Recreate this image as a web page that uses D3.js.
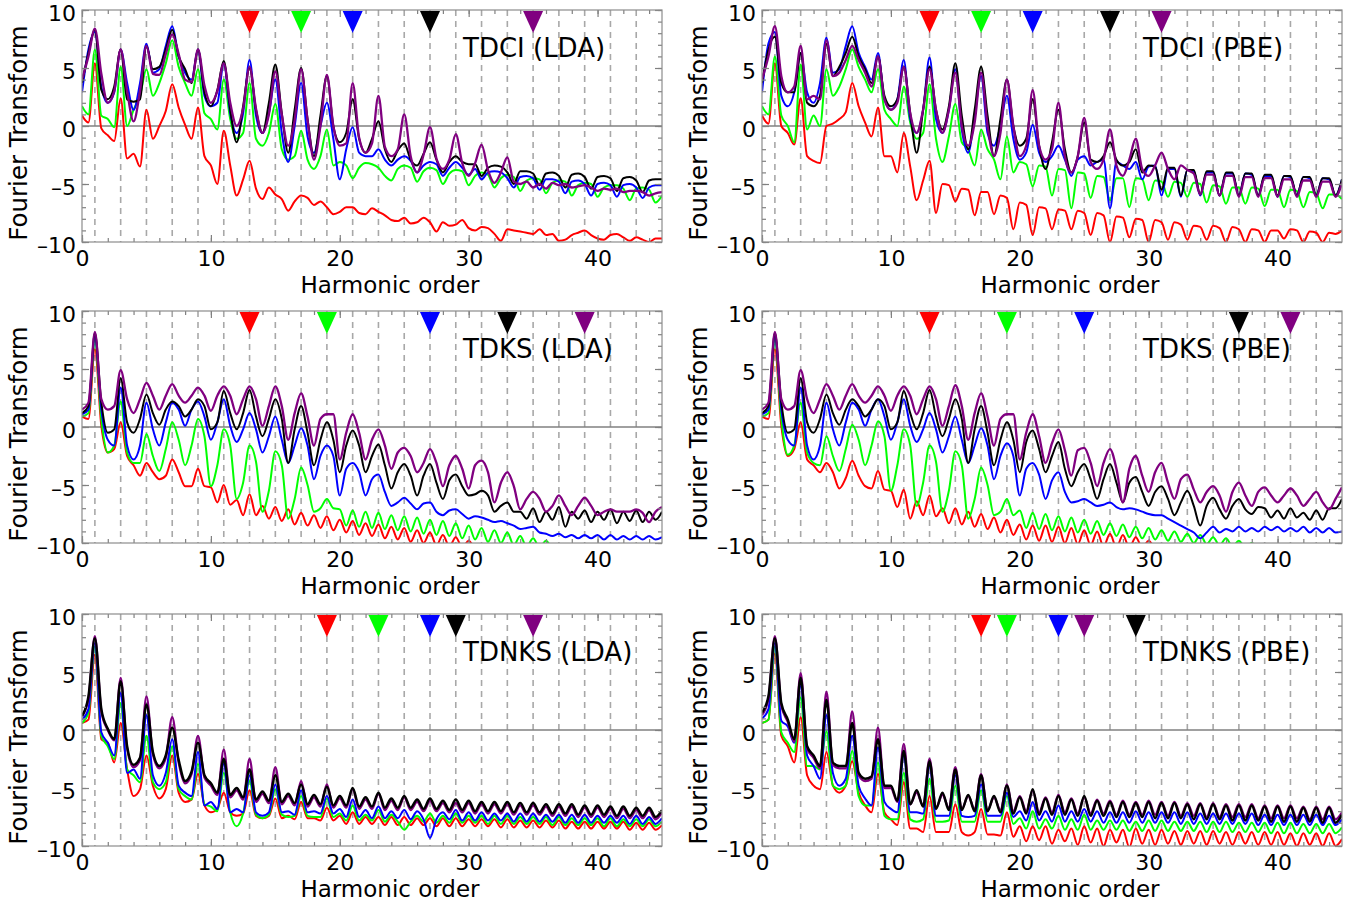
<!DOCTYPE html>
<html><head><meta charset="utf-8">
<script src="https://cdn.jsdelivr.net/npm/d3@7"></script>
<style>body{margin:0;background:#fff}svg{display:block}</style>
</head><body>
<svg id="c" width="1358" height="902"></svg>
<script>
// ---------------- DATA ----------------
const harmonics = [0,0.5,1,1.5,2,2.5,3,3.5,4,4.5,
5,5.5,6,6.5,7,7.5,8,8.5,9,9.5,
10,10.5,11,11.5,12,12.5,13,13.5,14,14.5,
15,15.5,16,16.5,17,17.5,18,18.5,19,19.5,
20,20.5,21,21.5,22,22.5,23,23.5,24,24.5,
25,25.5,26,26.5,27,27.5,28,28.5,29,29.5,
30,30.5,31,31.5,32,32.5,33,33.5,34,34.5,
35,35.5,36,36.5,37,37.5,38,38.5,39,39.5,
40,40.5,41,41.5,42,42.5,43,43.5,44,44.5,
45];

const xTickValues = [0,10,20,30,40];
const yTickValues = [-10,-5,0,5,10];
const panelTitles = ["TDCI (LDA)","TDCI (PBE)","TDKS (LDA)","TDKS (PBE)","TDNKS (LDA)","TDNKS (PBE)"];
const seriesNames = ["red","green","blue","black","purple"];

// marker harmonic positions, in order red, green, blue, black, purple
const markersTdciLda  = [13,17,21,27,35];
const markersTdciPbe  = [13,17,21,27,31];
const markersTdksLda  = [13,19,27,33,39];
const markersTdksPbe  = [13,19,25,37,41];
const markersTdnksLda = [19,23,27,29,35];
const markersTdnksPbe = [17,19,23,29,25];

// ---- TDCI (LDA)
const tdciLdaRed = [0.9,0.3,5.4,-0.2,-0.8,-1.3,2.4,-2.8,-2.4,-3.5,
1.4,-1.1,0.0,1.3,3.6,1.6,0.1,-1.1,1.6,-2.6,
-3.4,-5.0,-0.4,-3.4,-6.0,-4.6,-3.0,-5.4,-6.3,-5.3,
-5.9,-6.3,-7.3,-6.5,-6.0,-6.2,-6.8,-6.5,-7.0,-7.6,
-7.4,-7.0,-7.0,-7.5,-7.6,-7.1,-7.4,-7.7,-8.1,-8.2,
-7.9,-8.4,-8.3,-7.9,-8.3,-9.1,-8.3,-8.6,-8.5,-8.1,
-8.8,-9.0,-8.7,-8.8,-9.3,-9.9,-8.9,-9.0,-9.1,-9.2,
-9.3,-8.9,-9.4,-9.3,-9.9,-9.8,-9.4,-9.2,-9.0,-9.4,
-9.7,-9.8,-9.4,-9.3,-9.6,-9.9,-9.6,-9.8,-10.0,-9.7,
-9.7];
const tdciLdaGreen = [1.7,1.0,6.6,0.9,0.6,-0.1,5.1,0.0,1.4,2.6,
4.9,2.6,3.7,5.4,7.4,5.1,3.7,2.6,4.9,1.1,
0.6,-0.3,4.0,0.6,-1.1,-0.6,3.7,-1.1,-1.7,-0.6,
1.9,-2.0,-2.9,-2.6,-0.4,-2.9,-3.7,-2.6,-0.3,-3.4,
-3.1,-3.4,-4.5,-3.6,-3.2,-3.3,-3.6,-4.3,-4.7,-3.7,
-3.4,-3.6,-4.8,-3.9,-3.6,-3.8,-5.0,-4.1,-3.8,-3.9,
-5.1,-4.3,-4.0,-4.2,-5.3,-4.5,-4.2,-4.4,-5.6,-4.7,
-4.5,-4.6,-5.8,-4.9,-4.7,-4.8,-6.0,-5.1,-4.9,-5.0,
-6.1,-5.3,-5.1,-5.1,-5.4,-6.4,-5.4,-5.3,-5.5,-6.6,
-6.0];
const tdciLdaBlue = [2.9,6.6,8.1,3.4,2.0,2.9,6.6,3.7,1.4,3.7,
7.1,4.6,4.9,6.9,8.6,6.0,4.6,4.0,6.6,2.6,
1.7,2.0,5.4,1.1,-0.6,1.1,5.7,0.9,-0.6,1.1,
4.0,-0.6,-3.1,0.0,3.7,-0.9,-2.3,0.0,2.0,-1.1,
-4.6,-2.0,-0.1,-2.3,-2.6,-2.6,-2.0,-2.9,-3.4,-2.9,
-2.6,-3.0,-4.0,-3.4,-3.1,-3.3,-4.3,-3.6,-3.1,-3.6,
-4.2,-3.7,-4.6,-4.0,-3.9,-4.0,-4.5,-5.3,-4.4,-4.3,
-4.5,-5.5,-4.6,-4.6,-4.8,-5.8,-4.8,-4.7,-5.0,-6.0,
-5.0,-4.9,-5.1,-6.1,-5.1,-5.0,-5.3,-6.2,-5.3,-5.1,
-5.1];
const tdciLdaBlack = [3.7,6.3,8.3,3.1,2.3,3.4,6.6,2.3,2.1,2.3,
6.9,4.9,5.1,6.6,8.3,6.0,4.9,3.7,6.6,2.9,
1.7,3.1,5.6,1.4,-1.4,1.7,5.0,1.4,-0.6,2.0,
5.3,1.1,-2.3,1.4,5.0,0.6,-2.6,0.9,4.3,0.0,
-1.4,-0.6,2.3,-1.1,-2.3,-1.1,0.4,-2.0,-3.1,-2.1,
-1.5,-2.9,-3.4,-2.4,-1.4,-2.9,-4.0,-3.1,-2.6,-3.1,
-3.3,-3.3,-4.3,-3.6,-3.4,-3.5,-4.0,-5.0,-3.9,-3.9,
-4.1,-5.1,-4.1,-4.0,-4.3,-5.3,-4.2,-4.1,-4.4,-5.4,
-4.4,-4.3,-4.5,-5.6,-4.5,-4.4,-4.7,-5.7,-4.7,-4.6,
-4.6];
const tdciLdaPurple = [4.0,6.0,8.4,4.5,2.0,3.0,6.6,3.0,0.4,3.0,
6.9,4.5,4.4,6.2,7.9,6.2,4.0,3.8,6.6,3.5,
2.0,3.0,5.4,2.0,0.0,1.5,5.1,1.5,-0.6,1.0,
4.7,1.0,-1.7,0.5,4.9,0.5,-2.9,0.0,4.4,0.0,
-1.7,-1.5,3.7,-1.0,-2.3,-1.5,2.6,-1.8,-2.6,-2.0,
1.0,-2.6,-4.0,-2.5,-0.1,-2.8,-3.7,-2.9,-0.7,-3.2,
-4.3,-3.2,-1.6,-3.8,-4.9,-4.0,-2.7,-4.8,-5.0,-4.8,
-5.3,-5.0,-5.4,-4.9,-5.1,-5.0,-5.3,-5.2,-5.1,-5.3,
-5.6,-5.4,-5.5,-5.4,-5.7,-5.6,-5.6,-5.7,-6.0,-5.8,
-5.7];

// ---- TDCI (PBE)
const tdciPbeRed = [0.9,0.2,5.4,0.0,-0.6,-1.6,2.4,-2.6,-3.0,-3.2,
0.0,0.2,0.6,1.2,3.7,1.7,0.3,-0.9,1.6,-2.6,
-2.6,-4.0,-0.6,-3.5,-6.4,-4.7,-3.0,-7.5,-5.0,-5.1,
-6.5,-5.4,-5.5,-7.7,-5.7,-5.7,-7.6,-6.0,-6.2,-8.9,
-6.6,-6.8,-9.4,-7.0,-7.1,-8.9,-7.2,-7.3,-8.9,-7.3,
-7.5,-9.4,-7.5,-7.7,-10.0,-7.8,-7.9,-9.6,-8.0,-8.1,
-10.0,-8.1,-8.3,-9.8,-8.3,-8.5,-9.8,-8.6,-8.7,-9.8,
-8.6,-8.8,-10.0,-8.7,-8.9,-10.0,-8.9,-9.0,-10.0,-9.0,
-9.0,-9.7,-8.9,-9.0,-10.0,-9.1,-9.2,-10.0,-9.2,-9.3,
-9.0];
const tdciPbeGreen = [1.7,1.0,6.0,0.9,0.0,-1.4,5.3,-0.3,0.9,0.0,
4.9,2.6,3.4,4.9,6.6,5.1,4.0,2.9,4.9,1.4,
0.6,0.0,3.4,0.3,-1.1,-0.6,3.6,-1.1,-3.1,-0.9,
1.9,-1.4,-2.0,-3.4,-0.3,-2.0,-2.9,-4.6,-0.9,-4.0,
-3.1,-3.3,-5.2,-3.4,-3.5,-6.0,-3.7,-3.8,-7.1,-4.0,
-4.1,-6.2,-4.3,-4.4,-6.4,-4.5,-4.5,-7.0,-4.5,-4.6,
-6.4,-4.7,-4.8,-6.1,-4.8,-4.9,-6.1,-4.9,-5.0,-6.6,
-5.1,-5.2,-6.7,-5.3,-5.3,-6.7,-5.3,-5.4,-6.9,-5.5,
-5.5,-7.0,-5.5,-5.6,-7.0,-5.7,-5.8,-7.1,-5.9,-5.9,
-6.3];
const tdciPbeBlue = [2.9,7.1,8.1,2.6,1.7,2.9,6.3,2.9,2.0,3.7,
7.6,4.6,4.9,6.9,8.6,6.3,5.1,4.0,6.3,2.3,
1.4,2.3,5.7,0.6,-0.6,1.4,5.9,0.6,-0.6,1.4,
4.9,-0.3,-2.3,0.9,4.3,-0.6,-1.7,0.0,2.6,-1.1,
-2.9,-2.3,0.1,-2.3,-3.1,-2.6,-1.7,-2.9,-4.3,-2.9,
-2.6,-3.4,-3.1,-2.9,-7.1,-3.1,-3.4,-3.7,-3.1,-4.6,
-3.5,-3.4,-6.0,-3.7,-3.7,-6.1,-3.8,-3.9,-6.0,-4.0,
-4.0,-6.0,-4.1,-4.1,-6.0,-4.1,-4.2,-6.0,-4.3,-4.3,
-6.1,-4.3,-4.4,-6.0,-4.4,-4.5,-6.0,-4.5,-4.6,-6.0,
-4.6];
const tdciPbeBlack = [3.7,6.6,7.7,3.7,2.9,2.9,6.3,2.0,1.7,2.6,
7.1,4.3,5.1,6.3,7.7,6.0,4.9,3.7,6.0,2.6,
1.7,2.3,5.1,1.1,-2.3,1.4,5.1,1.4,-0.3,1.7,
5.4,0.9,-2.0,1.4,5.1,0.9,-2.6,0.6,4.0,0.0,
-1.7,-1.1,2.3,-1.7,-3.7,-1.4,1.4,-2.0,-4.0,-2.6,
0.3,-2.9,-3.1,-2.6,-1.4,-2.9,-3.4,-3.1,-2.0,-4.0,
-3.4,-3.5,-5.5,-3.6,-3.6,-6.0,-3.8,-3.8,-5.9,-3.9,
-3.9,-6.0,-4.0,-4.0,-6.0,-4.1,-4.1,-6.0,-4.2,-4.2,
-6.0,-4.3,-4.3,-6.0,-4.4,-4.4,-6.0,-4.5,-4.5,-6.0,
-4.6];
const tdciPbePurple = [4.0,6.0,8.6,4.3,2.9,3.4,6.9,2.3,2.6,2.3,
7.4,4.3,4.6,5.7,6.9,5.7,4.6,3.4,6.0,2.3,
1.4,2.0,5.1,1.1,-0.6,1.4,4.9,1.4,-0.6,1.4,
4.6,0.0,-1.7,0.3,4.6,0.0,-2.6,-0.6,4.0,0.0,
-2.6,-1.7,3.1,-1.7,-2.9,-2.0,2.0,-2.6,-4.0,-2.6,
0.7,-3.1,-3.7,-2.9,-0.3,-3.4,-4.3,-2.9,-1.1,-3.7,
-4.3,-3.4,-2.3,-3.7,-4.6,-3.4,-3.8,-4.1,-5.9,-4.2,
-4.2,-6.0,-4.3,-4.3,-6.1,-4.4,-4.4,-6.1,-4.5,-4.5,
-6.1,-4.6,-4.6,-6.1,-4.7,-4.7,-6.1,-4.8,-4.8,-6.1,
-4.9];

// ---- TDKS (LDA)
const tdksLdaRed = [0.9,0.7,6.7,0.1,-2.2,-1.9,0.4,-2.5,-3.3,-4.2,
-3.1,-3.9,-4.5,-4.2,-2.8,-3.9,-5.1,-5.1,-3.6,-5.1,
-5.2,-6.5,-5.0,-6.7,-6.3,-7.6,-5.8,-7.6,-6.8,-7.9,
-6.9,-8.1,-7.1,-8.4,-7.4,-8.5,-7.6,-8.7,-7.7,-8.9,
-8.0,-9.1,-8.1,-9.3,-8.3,-9.4,-8.4,-9.6,-8.6,-9.7,
-8.7,-9.9,-8.9,-10.0,-9.1,-10.2,-9.3,-10.3,-9.5,-10.4,
-9.8,-10.4,-10.1,-10.4,-10.3,-10.4,-10.4,-10.4,-10.4,-10.4,
-10.4,-10.4,-10.4,-10.4,-10.4,-10.4,-10.4,-10.4,-10.4,-10.4,
-10.4,-10.4,-10.4,-10.4,-10.4,-10.4,-10.4,-10.4,-10.4,-10.4,
-10.4];
const tdksLdaGreen = [0.9,1.2,7.5,0.7,-2.2,-1.6,2.2,-2.2,-3.1,-3.1,
-0.6,-2.5,-3.8,-1.9,0.4,-1.1,-3.3,-1.6,0.7,-0.8,
-5.1,-3.3,-0.2,-1.6,-6.2,-4.8,-1.6,-3.0,-7.3,-5.5,
-2.1,-3.3,-7.9,-6.2,-3.5,-5.0,-7.3,-7.0,-6.2,-7.0,
-7.1,-8.5,-7.2,-8.6,-7.3,-8.7,-7.4,-8.8,-7.6,-8.9,
-7.7,-9.0,-7.8,-9.2,-8.0,-9.3,-8.1,-9.4,-8.3,-9.6,
-8.5,-9.7,-8.7,-9.9,-8.9,-10.0,-9.1,-10.2,-9.4,-10.3,
-9.6,-10.4,-9.8,-10.4,-10.1,-10.4,-10.3,-10.4,-10.4,-10.4,
-10.4,-10.4,-10.4,-10.4,-10.4,-10.4,-10.4,-10.4,-10.4,-10.4,
-10.4];
const tdksLdaBlue = [1.1,1.5,7.8,1.5,-1.1,-1.6,3.4,-1.6,-2.8,-1.6,
2.1,-0.2,-1.6,0.4,2.1,1.5,0.1,1.5,2.2,0.9,
-1.1,0.4,2.4,0.1,-1.3,-0.2,1.2,-0.2,-2.2,-0.8,
0.9,-1.1,-3.1,-1.6,-0.1,-1.6,-4.5,-2.5,-1.6,-2.5,
-5.9,-3.6,-3.1,-3.9,-5.9,-4.5,-4.1,-5.6,-6.8,-6.5,
-6.1,-6.6,-7.1,-6.6,-6.5,-7.3,-7.6,-7.2,-7.1,-7.5,
-7.9,-7.7,-7.8,-8.0,-8.2,-8.1,-8.3,-8.5,-8.8,-8.7,
-8.6,-9.1,-9.2,-9.4,-9.2,-9.5,-9.3,-9.6,-9.3,-9.6,
-9.3,-9.7,-9.3,-9.7,-9.4,-9.7,-9.4,-9.7,-9.4,-9.7,
-9.5];
const tdksLdaBlack = [1.2,1.8,8.1,2.1,-0.5,-0.2,4.2,0.4,-0.5,0.7,
2.8,1.2,0.2,1.5,2.2,1.8,0.9,1.5,2.4,1.8,
-0.2,0.4,3.1,1.2,-0.2,1.2,3.2,0.9,-0.8,0.7,
2.4,0.7,-3.1,-0.2,1.8,-0.5,-3.3,-1.1,0.4,-1.1,
-3.9,-1.6,-0.3,-1.6,-3.9,-2.5,-1.5,-3.3,-5.3,-3.9,
-3.2,-4.2,-5.9,-4.2,-3.2,-4.8,-6.2,-4.6,-4.1,-5.1,
-5.9,-5.8,-5.5,-5.9,-7.3,-6.8,-6.5,-7.3,-7.3,-7.9,
-7.0,-8.2,-7.3,-8.0,-6.9,-8.6,-7.3,-7.9,-7.2,-8.2,
-7.3,-8.0,-7.1,-8.3,-7.3,-8.1,-7.2,-8.2,-7.3,-8.0,
-7.3];
const tdksLdaPurple = [1.5,2.1,8.2,2.4,1.5,1.8,4.9,2.4,1.2,2.4,
3.8,2.7,1.5,2.7,3.7,2.7,2.1,2.7,3.4,2.7,
1.4,2.7,3.5,2.7,1.1,2.4,3.5,2.4,0.1,1.8,
3.5,1.8,-1.1,1.2,2.9,0.9,-1.6,0.7,1.1,1.1,
-2.8,-0.5,1.1,-0.5,-2.8,-1.1,-0.2,-1.6,-3.6,-2.2,
-1.8,-2.5,-3.9,-3.1,-1.9,-3.1,-5.1,-3.3,-2.5,-3.6,
-5.3,-3.3,-2.9,-3.9,-6.5,-4.8,-3.9,-5.1,-7.1,-6.2,
-5.6,-6.2,-7.3,-6.8,-5.9,-6.8,-7.6,-6.8,-6.1,-6.8,
-7.6,-7.3,-7.1,-7.3,-7.3,-7.3,-7.1,-7.4,-8.2,-7.3,
-6.9];

// ---- TDKS (PBE)
const tdksPbeRed = [0.9,0.7,6.7,0.1,-2.5,-1.9,0.4,-2.8,-3.3,-3.9,
-3.1,-3.9,-5.3,-4.4,-2.9,-4.2,-5.1,-5.3,-3.8,-5.4,
-5.5,-6.9,-5.4,-7.9,-6.4,-7.6,-5.9,-7.7,-7.0,-8.3,
-7.0,-8.4,-7.3,-8.6,-7.5,-8.8,-7.8,-9.1,-8.0,-9.3,
-8.4,-9.7,-8.5,-9.8,-8.5,-9.9,-8.6,-10.0,-8.7,-10.1,
-8.9,-10.2,-9.0,-10.3,-9.2,-10.4,-9.3,-10.4,-9.5,-10.4,
-9.8,-10.4,-10.2,-10.4,-10.4,-10.4,-10.4,-10.4,-10.4,-10.4,
-10.4,-10.4,-10.4,-10.4,-10.4,-10.4,-10.4,-10.4,-10.4,-10.4,
-10.4,-10.4,-10.4,-10.4,-10.4,-10.4,-10.4,-10.4,-10.4,-10.4,
-10.4];
const tdksPbeGreen = [0.9,1.2,7.5,0.7,-2.4,-1.6,2.1,-2.2,-3.1,-3.3,
-0.8,-2.5,-3.8,-1.9,0.2,-1.1,-3.3,-1.6,0.5,-0.8,
-5.5,-3.3,-0.2,-1.6,-6.8,-4.8,-1.6,-3.0,-7.3,-5.5,
-2.1,-3.3,-7.9,-6.2,-3.5,-5.0,-7.6,-7.3,-6.2,-7.6,
-7.2,-8.7,-7.4,-8.8,-7.5,-8.9,-7.7,-9.0,-7.8,-9.1,
-8.0,-9.2,-8.1,-9.3,-8.3,-9.4,-8.4,-9.5,-8.6,-9.6,
-8.7,-9.7,-8.9,-9.8,-9.0,-9.9,-9.2,-10.0,-9.3,-10.1,
-9.5,-10.2,-9.6,-10.3,-9.8,-10.4,-10.0,-10.4,-10.2,-10.4,
-10.4,-10.4,-10.4,-10.4,-10.4,-10.4,-10.4,-10.4,-10.4,-10.4,
-10.4];
const tdksPbeBlue = [1.1,1.5,7.8,1.5,-1.1,-1.6,3.4,-1.6,-2.8,-1.6,
2.1,-0.2,-1.6,0.4,2.1,1.5,0.1,1.5,2.4,0.9,
-1.1,0.4,2.4,0.1,-1.3,-0.2,1.2,-0.2,-2.2,-0.8,
0.9,-1.1,-3.1,-1.6,-0.1,-1.6,-4.5,-2.5,-1.4,-2.5,
-5.9,-3.6,-3.1,-4.1,-6.2,-4.6,-3.9,-5.6,-6.5,-6.4,
-6.2,-6.5,-6.8,-6.7,-6.5,-6.9,-7.1,-7.0,-7.1,-7.3,
-7.5,-7.6,-7.6,-7.9,-8.2,-8.5,-8.8,-9.1,-9.6,-9.1,
-8.6,-9.1,-8.8,-9.0,-8.6,-9.0,-8.7,-9.0,-8.6,-8.9,
-8.6,-9.0,-8.7,-9.0,-8.6,-9.1,-8.7,-9.1,-8.7,-9.1,
-9.0];
const tdksPbeBlack = [1.2,1.8,8.1,2.1,-0.5,-0.2,4.2,0.4,-0.5,0.7,
2.8,1.2,0.2,1.5,2.4,1.8,0.9,1.5,2.4,1.8,
-0.2,0.4,3.1,1.2,-0.2,1.2,3.2,0.9,-0.8,0.7,
2.4,0.7,-3.1,-0.2,1.8,-0.5,-3.3,-1.1,0.4,-1.1,
-3.9,-1.3,-0.3,-1.9,-3.9,-2.5,-1.3,-3.6,-5.1,-3.9,
-3.2,-4.5,-6.2,-4.5,-3.2,-4.8,-6.5,-4.8,-4.3,-5.6,
-6.8,-5.6,-5.1,-6.2,-7.6,-6.5,-5.5,-6.8,-8.5,-6.8,
-6.1,-7.1,-7.9,-6.8,-6.2,-7.1,-7.5,-6.9,-7.0,-7.8,
-7.2,-7.9,-7.0,-7.8,-7.4,-8.0,-7.2,-8.0,-7.0,-7.0,
-6.2];
const tdksPbePurple = [1.5,2.1,8.2,2.4,1.5,1.8,4.9,2.4,1.2,2.4,
3.7,2.7,1.5,2.7,3.7,2.7,2.1,2.7,3.5,2.7,
1.4,2.7,3.5,2.7,1.1,2.4,3.5,2.4,0.1,1.8,
3.6,1.8,-1.1,1.2,2.9,0.9,-1.6,0.7,1.1,1.1,
-2.8,-0.5,1.1,-0.8,-3.1,-1.4,-0.2,-2.0,-4.2,-2.0,
-1.8,-3.1,-5.1,-3.1,-1.9,-3.6,-6.5,-3.6,-2.5,-4.2,
-5.6,-3.9,-3.1,-4.8,-6.2,-4.5,-4.1,-5.4,-6.5,-5.6,
-5.1,-5.9,-7.3,-5.6,-4.8,-5.9,-6.8,-5.6,-5.2,-5.9,
-6.5,-5.9,-5.3,-5.9,-6.8,-6.2,-5.6,-6.5,-7.1,-6.2,
-5.2];

// ---- TDNKS (LDA)
const tdnksLdaRed = [0.6,0.9,6.5,-0.8,-1.1,-2.8,0.6,-3.4,-5.7,-5.1,
-2.2,-4.8,-5.9,-5.1,-2.2,-5.4,-6.2,-6.0,-3.8,-6.5,
-7.1,-6.8,-5.4,-7.1,-7.4,-7.2,-5.2,-7.4,-7.6,-7.4,
-5.9,-7.6,-7.4,-7.7,-6.2,-7.6,-7.6,-7.8,-6.7,-7.8,
-7.4,-8.1,-7.1,-8.1,-7.5,-8.1,-7.5,-8.2,-7.5,-8.2,
-7.5,-8.2,-7.6,-8.2,-7.6,-8.3,-7.6,-8.3,-7.6,-8.3,
-7.7,-8.3,-7.7,-8.3,-7.7,-8.4,-7.7,-8.4,-7.8,-8.4,
-7.8,-8.4,-7.8,-8.4,-7.8,-8.5,-7.9,-8.5,-7.9,-8.5,
-7.9,-8.5,-7.9,-8.5,-7.9,-8.6,-8.0,-8.6,-8.0,-8.6,
-8.2];
const tdnksLdaGreen = [0.6,1.5,7.2,-0.5,-1.4,-2.5,2.3,-3.4,-3.9,-4.5,
-0.5,-4.5,-5.1,-4.5,-1.4,-5.1,-5.7,-6.0,-2.9,-6.4,
-6.6,-7.0,-3.7,-7.1,-8.3,-7.2,-4.4,-7.3,-7.6,-7.3,
-5.1,-7.3,-7.5,-7.4,-5.7,-7.4,-7.5,-7.5,-5.9,-7.5,
-7.2,-7.8,-6.5,-7.8,-7.3,-7.8,-6.9,-7.9,-7.3,-7.9,
-8.6,-7.9,-7.4,-7.9,-7.2,-8.0,-7.4,-8.0,-7.2,-8.0,
-7.4,-8.0,-7.4,-8.1,-7.4,-8.1,-7.4,-8.1,-7.5,-8.1,
-7.5,-8.1,-7.5,-8.2,-7.5,-8.2,-7.6,-8.2,-7.6,-8.2,
-7.6,-8.3,-7.6,-8.3,-7.7,-8.3,-7.7,-8.3,-7.7,-8.3,
-7.9];
const tdnksLdaBlue = [0.9,1.8,7.5,-0.2,-1.1,-2.2,3.2,-3.7,-3.4,-4.2,
1.3,-3.9,-4.8,-3.7,-0.8,-4.8,-5.4,-5.7,-1.9,-6.5,
-6.2,-6.8,-2.9,-7.1,-6.8,-7.1,-3.9,-7.1,-7.4,-7.1,
-4.7,-7.1,-7.0,-7.3,-5.2,-7.1,-7.0,-7.2,-5.7,-7.2,
-6.8,-7.5,-6.0,-7.5,-6.9,-7.6,-6.6,-7.6,-7.0,-7.6,
-6.9,-7.7,-7.0,-7.7,-9.3,-7.7,-7.1,-7.7,-6.9,-7.8,
-7.1,-7.8,-7.1,-7.8,-7.2,-7.8,-7.2,-7.9,-7.2,-7.9,
-7.2,-7.9,-7.3,-7.9,-7.3,-8.0,-7.3,-8.0,-7.3,-8.0,
-7.4,-8.0,-7.4,-8.0,-7.4,-8.1,-7.4,-8.1,-7.5,-8.1,
-7.6];
const tdnksLdaBlack = [1.2,2.9,7.9,1.8,0.1,-0.8,4.2,-1.4,-3.0,-2.4,
2.2,-1.9,-3.1,-2.2,0.2,-2.6,-4.4,-3.6,-1.1,-3.9,
-4.6,-5.4,-2.5,-5.6,-5.0,-5.8,-3.4,-6.0,-5.3,-6.1,
-3.9,-6.2,-5.5,-6.3,-4.7,-6.4,-5.6,-6.4,-4.9,-6.5,
-5.7,-6.5,-5.0,-6.6,-5.8,-6.6,-5.4,-6.7,-5.9,-6.7,
-5.7,-6.7,-6.0,-6.8,-5.9,-6.8,-6.1,-6.9,-6.0,-6.9,
-6.1,-7.0,-6.2,-7.0,-6.2,-7.0,-6.2,-7.1,-6.3,-7.1,
-6.3,-7.1,-6.4,-7.2,-6.4,-7.2,-6.4,-7.3,-6.5,-7.3,
-6.5,-7.3,-6.6,-7.4,-6.6,-7.4,-6.7,-7.4,-6.7,-7.5,
-6.9];
const tdnksLdaPurple = [1.2,2.7,8.1,1.6,0.0,-0.9,4.5,-1.6,-3.2,-2.6,
2.9,-2.1,-3.3,-2.4,1.1,-2.8,-4.6,-3.8,-0.5,-4.1,
-4.8,-5.6,-1.7,-5.8,-5.2,-6.0,-2.5,-6.2,-5.5,-6.3,
-3.2,-6.4,-5.7,-6.5,-4.4,-6.6,-5.8,-6.6,-4.7,-6.7,
-5.9,-6.7,-5.1,-6.8,-6.0,-6.8,-5.5,-6.9,-6.1,-6.9,
-5.8,-6.9,-6.2,-7.0,-6.1,-7.0,-6.3,-7.1,-6.3,-7.1,
-6.3,-7.2,-6.4,-7.2,-6.4,-7.2,-6.4,-7.3,-6.5,-7.3,
-6.5,-7.3,-6.6,-7.4,-6.6,-7.4,-6.6,-7.5,-6.7,-7.5,
-6.7,-7.5,-6.8,-7.6,-6.8,-7.6,-6.9,-7.6,-6.9,-7.7,
-7.1];

// ---- TDNKS (PBE)
const tdnksPbeRed = [0.6,0.9,6.6,-0.5,-1.4,-2.8,1.1,-3.9,-4.8,-5.1,
-1.9,-4.8,-5.4,-4.8,-2.7,-5.4,-6.5,-7.1,-3.8,-7.1,
-7.7,-8.2,-4.5,-8.5,-8.5,-8.8,-5.7,-8.8,-8.8,-8.8,
-6.4,-8.8,-9.1,-8.8,-6.8,-9.0,-9.0,-9.1,-7.1,-9.2,
-8.3,-9.6,-8.3,-9.5,-8.3,-9.8,-8.6,-9.6,-8.5,-9.9,
-8.3,-9.7,-8.5,-10.0,-8.6,-9.7,-8.6,-10.1,-8.5,-9.8,
-8.6,-9.9,-8.6,-9.8,-8.7,-9.9,-8.7,-9.8,-8.7,-9.9,
-8.7,-9.8,-8.8,-9.9,-8.8,-9.8,-8.8,-9.9,-8.8,-9.9,
-8.8,-9.9,-8.9,-10.0,-8.9,-9.9,-8.9,-10.0,-8.9,-10.0,
-9.4];
const tdnksPbeGreen = [0.6,0.9,7.2,-0.2,-1.1,-1.9,2.8,-3.1,-3.1,-3.4,
-0.1,-4.8,-5.1,-4.8,-1.8,-5.7,-6.5,-6.5,-2.8,-7.4,
-7.7,-7.7,-3.7,-7.7,-7.9,-7.7,-4.2,-7.9,-7.9,-7.8,
-4.8,-7.9,-7.9,-7.9,-5.2,-7.9,-7.9,-7.9,-5.7,-8.1,
-7.6,-8.5,-7.0,-8.5,-7.7,-8.5,-7.4,-8.6,-7.7,-8.6,
-7.3,-8.6,-7.8,-8.6,-7.8,-8.6,-7.8,-8.7,-7.9,-8.7,
-7.8,-8.7,-7.8,-8.7,-7.9,-8.7,-7.9,-8.7,-7.9,-8.8,
-7.9,-8.8,-7.9,-8.8,-8.0,-8.8,-8.0,-8.8,-8.0,-8.9,
-8.0,-8.9,-8.0,-8.9,-8.1,-8.9,-8.1,-8.9,-8.1,-8.9,
-8.4];
const tdnksPbeBlue = [1.0,1.8,7.5,0.8,0.3,-1.1,3.8,-2.2,-3.1,-4.2,
1.3,-3.7,-4.8,-4.2,-0.5,-4.8,-5.9,-6.5,-1.5,-6.2,
-6.8,-7.1,-2.2,-7.1,-7.1,-7.2,-3.1,-7.4,-7.4,-7.4,
-3.9,-7.4,-7.5,-7.4,-4.7,-7.4,-7.4,-7.4,-5.4,-7.5,
-7.0,-7.8,-6.2,-7.8,-7.0,-7.9,-6.5,-7.9,-7.0,-7.9,
-6.8,-7.9,-7.0,-8.0,-7.1,-8.0,-7.1,-8.0,-7.0,-8.0,
-7.1,-8.0,-7.1,-8.0,-7.1,-8.1,-7.1,-8.1,-7.2,-8.1,
-7.2,-8.1,-7.2,-8.1,-7.2,-8.1,-7.2,-8.2,-7.3,-8.2,
-7.3,-8.2,-7.3,-8.2,-7.3,-8.2,-7.3,-8.2,-7.4,-8.2,
-7.7];
const tdnksPbeBlack = [1.5,2.9,7.9,2.3,0.9,-0.8,4.5,-1.4,-2.2,-3.1,
2.6,-2.8,-3.1,-3.1,0.6,-3.7,-4.2,-4.0,-0.8,-4.8,
-4.8,-6.1,-1.8,-6.4,-5.2,-6.6,-2.7,-6.8,-5.4,-6.9,
-3.4,-6.9,-5.6,-7.0,-3.9,-7.0,-5.7,-7.1,-4.8,-7.2,
-5.8,-7.2,-5.1,-7.3,-5.9,-7.3,-5.7,-7.3,-6.0,-7.4,
-5.7,-7.4,-6.1,-7.4,-6.2,-7.5,-6.2,-7.5,-6.3,-7.5,
-6.2,-7.6,-6.3,-7.6,-6.3,-7.6,-6.4,-7.7,-6.4,-7.7,
-6.4,-7.7,-6.5,-7.8,-6.5,-7.8,-6.5,-7.8,-6.6,-7.9,
-6.6,-7.9,-6.6,-7.9,-6.7,-7.9,-6.7,-8.0,-6.7,-8.0,
-7.3];
const tdnksPbePurple = [1.3,2.7,8.1,2.1,0.7,-1.0,4.9,-1.6,-2.4,-3.3,
3.3,-3.0,-3.3,-3.3,1.6,-3.9,-4.4,-4.2,0.2,-5.0,
-5.0,-6.2,-1.2,-6.4,-5.4,-6.5,-2.5,-6.7,-5.6,-6.7,
-3.2,-6.8,-5.7,-6.8,-3.8,-6.9,-5.8,-6.9,-4.7,-7.0,
-5.7,-7.0,-5.2,-7.1,-5.8,-7.1,-5.6,-7.1,-5.9,-7.2,
-5.8,-7.2,-6.0,-7.2,-6.1,-7.3,-6.1,-7.3,-6.2,-7.3,
-6.1,-7.3,-6.2,-7.4,-6.2,-7.4,-6.3,-7.4,-6.3,-7.5,
-6.3,-7.5,-6.4,-7.5,-6.4,-7.5,-6.4,-7.6,-6.5,-7.6,
-6.5,-7.6,-6.5,-7.6,-6.6,-7.7,-6.6,-7.7,-6.6,-7.7,
-7.1];

// ---------------- CHART ----------------
const colors = {red:"#ff0000", green:"#00ff00", blue:"#0000ff", black:"#000000", purple:"#800080"};
const FONT = "'DejaVu Sans', Verdana, sans-serif";
const colX = [82, 762], rowY = [10, 311, 614], W = 580, H = 232;

const panels = [
  {col:0,row:0,title:panelTitles[0],markers:markersTdciLda,series:{red:tdciLdaRed,green:tdciLdaGreen,blue:tdciLdaBlue,black:tdciLdaBlack,purple:tdciLdaPurple},order:["red","green","blue","black","purple"],bw:2},
  {col:1,row:0,title:panelTitles[1],markers:markersTdciPbe,series:{red:tdciPbeRed,green:tdciPbeGreen,blue:tdciPbeBlue,black:tdciPbeBlack,purple:tdciPbePurple},order:["red","green","blue","black","purple"],bw:2},
  {col:0,row:1,title:panelTitles[2],markers:markersTdksLda,series:{red:tdksLdaRed,green:tdksLdaGreen,blue:tdksLdaBlue,black:tdksLdaBlack,purple:tdksLdaPurple},order:["red","green","blue","black","purple"],bw:2},
  {col:1,row:1,title:panelTitles[3],markers:markersTdksPbe,series:{red:tdksPbeRed,green:tdksPbeGreen,blue:tdksPbeBlue,black:tdksPbeBlack,purple:tdksPbePurple},order:["red","green","blue","black","purple"],bw:2},
  {col:0,row:2,title:panelTitles[4],markers:markersTdnksLda,series:{red:tdnksLdaRed,green:tdnksLdaGreen,blue:tdnksLdaBlue,black:tdnksLdaBlack,purple:tdnksLdaPurple},order:["red","green","blue","purple","black"],bw:2.5},
  {col:1,row:2,title:panelTitles[5],markers:markersTdnksPbe,series:{red:tdnksPbeRed,green:tdnksPbeGreen,blue:tdnksPbeBlue,black:tdnksPbeBlack,purple:tdnksPbePurple},order:["red","green","blue","purple","black"],bw:2.5}
];

const svg = d3.select("#c");
const defs = svg.append("defs");
const fmtY = d => d < 0 ? "\u2013" + Math.abs(d) : String(d);

panels.forEach((p, pi) => {
  const x0 = colX[p.col], y0 = rowY[p.row];
  const x = d3.scaleLinear().domain([0,45]).range([x0, x0 + W]);
  const y = d3.scaleLinear().domain([-10,10]).range([y0 + H, y0]);
  const g = svg.append("g");
  const cid = "clip" + pi;
  defs.append("clipPath").attr("id", cid).append("rect")
    .attr("x", x0).attr("y", y0).attr("width", W).attr("height", H);

  // dashed grid at odd harmonics
  g.append("g").selectAll("line").data(d3.range(1, 45, 2)).join("line")
    .attr("x1", d => x(d)).attr("x2", d => x(d)).attr("y1", y0).attr("y2", y0 + H)
    .attr("stroke", "#a8a8a8").attr("stroke-width", 1.6).attr("stroke-dasharray", "6,5");

  // zero line
  g.append("line").attr("x1", x0).attr("x2", x0 + W).attr("y1", y(0)).attr("y2", y(0))
    .attr("stroke", "#808080").attr("stroke-width", 1.5);

  // series
  const line = d3.line().x((d, i) => x(harmonics[i])).y(d => y(d)).curve(d3.curveMonotoneX);
  const lg = g.append("g").attr("clip-path", `url(#${cid})`);
  p.order.forEach(k => {
    lg.append("path").attr("d", line(p.series[k])).attr("fill", "none")
      .attr("stroke", colors[k]).attr("stroke-width", k === "purple" ? 2.3 : (k === "black" ? p.bw : 2))
      .attr("stroke-linejoin", "round");
  });

  // axes (ticks inward)
  const tickStyle = sel => {
    sel.select(".domain").remove();
    sel.selectAll(".tick line").attr("stroke", "#808080").attr("stroke-width", 1.2);
    sel.selectAll("text").attr("font-family", FONT).attr("font-size", 22).attr("fill", "#000");
  };
  g.append("g").attr("transform", `translate(0,${y0 + H})`)
    .call(d3.axisBottom(x).tickValues(d3.range(0, 46, 2)).tickSize(-4).tickFormat("")).call(tickStyle);
  g.append("g").attr("transform", `translate(0,${y0 + H})`)
    .call(d3.axisBottom(x).tickValues(xTickValues).tickSize(-7).tickPadding(8).tickFormat(d3.format("d"))).call(tickStyle);
  g.append("g").attr("transform", `translate(0,${y0})`)
    .call(d3.axisTop(x).tickValues(d3.range(0, 46, 2)).tickSize(-4).tickFormat("")).call(tickStyle);
  g.append("g").attr("transform", `translate(0,${y0})`)
    .call(d3.axisTop(x).tickValues(xTickValues).tickSize(-7).tickFormat("")).call(tickStyle);
  g.append("g").attr("transform", `translate(${x0},0)`)
    .call(d3.axisLeft(y).tickValues(d3.range(-10, 11, 1)).tickSize(-4).tickFormat("")).call(tickStyle);
  g.append("g").attr("transform", `translate(${x0},0)`)
    .call(d3.axisLeft(y).tickValues(yTickValues).tickSize(-7).tickPadding(6).tickFormat(fmtY)).call(tickStyle)
    .selectAll("text").attr("dy", "0.47em");
  g.append("g").attr("transform", `translate(${x0 + W},0)`)
    .call(d3.axisRight(y).tickValues(d3.range(-10, 11, 1)).tickSize(-4).tickFormat("")).call(tickStyle);
  g.append("g").attr("transform", `translate(${x0 + W},0)`)
    .call(d3.axisRight(y).tickValues(yTickValues).tickSize(-7).tickFormat("")).call(tickStyle);

  // frame
  g.append("rect").attr("x", x0).attr("y", y0).attr("width", W).attr("height", H)
    .attr("fill", "none").attr("stroke", "#8c8c8c").attr("stroke-width", 1.2);

  // markers (inverted triangles)
  g.append("g").selectAll("polygon").data(p.markers).join("polygon")
    .attr("points", d => {
      const cx = x(d);
      return `${cx - 10},${y0 + 1} ${cx + 10},${y0 + 1} ${cx},${y0 + 23}`;
    })
    .attr("fill", (d, i) => colors[seriesNames[i]]);

  // panel title
  g.append("text").attr("x", x0 + 381).attr("y", y0 + 47)
    .attr("font-family", FONT).attr("font-size", 26).attr("fill", "#000").text(p.title);

  // axis titles
  g.append("text").attr("x", x0 + 308).attr("y", y0 + H + 51).attr("text-anchor", "middle")
    .attr("font-family", FONT).attr("font-size", 23).attr("fill", "#000").text("Harmonic order");
  g.append("text").attr("transform", `translate(${x0 - 55},${y0 + H / 2 + 7}) rotate(-90)`)
    .attr("text-anchor", "middle").attr("font-family", FONT).attr("font-size", 24.5)
    .attr("fill", "#000").text("Fourier Transform");
});
</script>
</body></html>
